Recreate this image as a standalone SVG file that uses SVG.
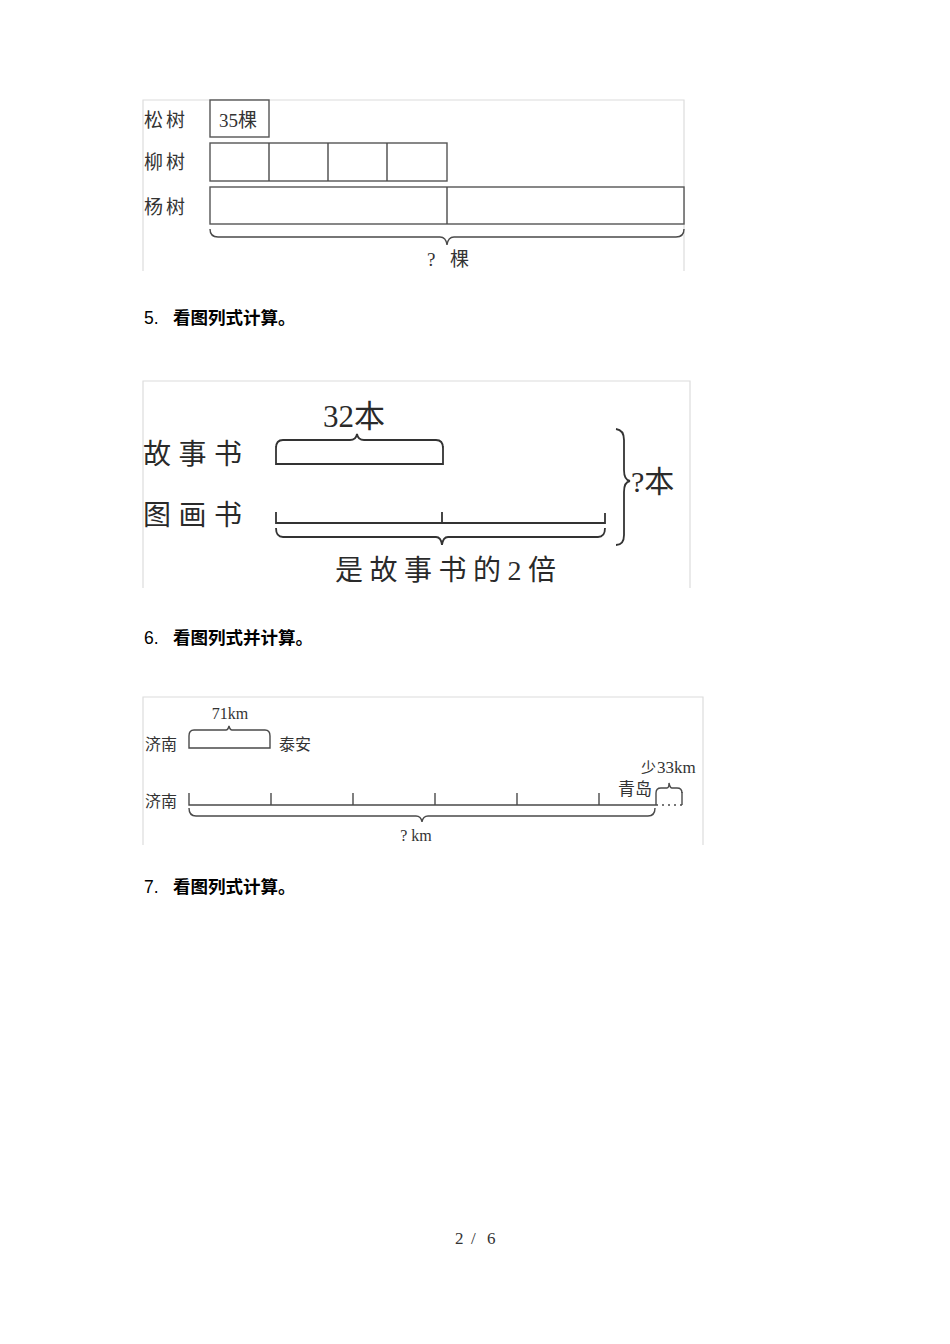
<svg xmlns="http://www.w3.org/2000/svg" width="950" height="1344" viewBox="0 0 950 1344">
<style>
.frame{fill:none;stroke:#dcdcdc;stroke-width:1.2}
.ln{fill:none;stroke:#4a4a4a;stroke-width:1.4}
.ln2{fill:none;stroke:#333;stroke-width:1.8}
.box{fill:#fff;stroke:#555;stroke-width:1.4}
.t{font-family:"Liberation Serif","Noto Sans CJK SC",serif;fill:#333}
.t2{font-family:"Liberation Serif","Noto Sans CJK SC",serif;fill:#2a2a2a}
.s{font-family:"Liberation Serif",serif}
.c{font-family:"Noto Sans CJK SC",sans-serif}
.h{font-family:"Liberation Sans","Noto Sans CJK SC",sans-serif;font-size:17.5px;fill:#000}
.hb{font-weight:bold}
</style>
<rect width="950" height="1344" fill="#fff"/>

<g id="diagram1">
  <path class="frame" d="M143,271 V100 H684 V271"/>
  <g id="d1-labels" class="t" font-size="19">
    <text x="144" y="127" letter-spacing="3">松树</text>
    <text x="144" y="169" letter-spacing="3">柳树</text>
    <text x="144" y="214" letter-spacing="3">杨树</text>
  </g>
  <g id="d1-pine">
    <rect class="box" x="210" y="100" width="59" height="37"/>
    <text class="t" x="219" y="127" font-size="19"><tspan class="s">35</tspan><tspan class="c">棵</tspan></text>
  </g>
  <g id="d1-willow">
    <rect class="box" x="210" y="143" width="237" height="38"/>
    <path class="ln" d="M269,143 V181 M328,143 V181 M387,143 V181"/>
  </g>
  <g id="d1-poplar">
    <rect class="box" x="210" y="187" width="474" height="37"/>
    <path class="ln" d="M447,187 V224"/>
  </g>
  <g id="d1-total">
    <path class="ln" d="M210,229 Q210,237 218,237 H440 Q446,237 447,245 Q448,237 454,237 H676 Q684,237 684,229"/>
    <text class="t s" x="427" y="266" font-size="19">?</text>
    <text class="t" x="450" y="266" font-size="19">棵</text>
  </g>
</g>

<g id="heading5" class="h"><text x="144" y="324">5.</text><text class="hb" x="173" y="324">看图列式计算。</text></g>

<g id="diagram2">
  <path class="frame" d="M143,588 V381 H690 V588"/>
  <g id="d2-story">
    <text class="t2" x="143" y="464" font-size="28" letter-spacing="7.5">故事书</text>
    <path class="ln2" d="M276,448 Q276,440 283,440 H350 Q356,440 357,434 Q358,440 364,440 H436 Q443,440 443,448 M276,446 V464 H443 V446"/>
    <text class="t2" x="323" y="427" font-size="31"><tspan class="s">32</tspan><tspan class="c">本</tspan></text>
  </g>
  <g id="d2-picture">
    <text class="t2" x="143" y="525" font-size="28" letter-spacing="7.5">图画书</text>
    <path class="ln2" d="M276,512 V523 H605 V513 M442,512 V523"/>
    <path class="ln2" d="M276,528 Q276,537 283,537 H436 Q441,537 442,545 Q443,537 448,537 H598 Q605,537 605,528"/>
    <text class="t2" x="335" y="580" font-size="28" letter-spacing="6.5"><tspan class="c">是故事书的</tspan><tspan class="s">2</tspan><tspan class="c">倍</tspan></text>
  </g>
  <g id="d2-total">
    <path class="ln2" d="M616,429 Q624,430 624,440 V470 Q624,480 630,481 Q624,482 624,492 V535 Q624,545 616,545"/>
    <text class="t2" x="631" y="492" font-size="30"><tspan class="s">?</tspan><tspan class="c">本</tspan></text>
  </g>
</g>

<g id="heading6" class="h"><text x="144" y="644">6.</text><text class="hb" x="173" y="644">看图列式并计算。</text></g>

<g id="diagram3">
  <path class="frame" d="M143,845 V697 H703 V845"/>
  <g id="d3-taian">
    <text class="t" x="145" y="750" font-size="16">济南</text>
    <path class="ln" d="M189,736 Q189,730 194,730 H226 Q228,730 229,726 Q230,730 232,730 H265 Q270,730 270,736 M189,736 V748 H270 V736"/>
    <text class="t s" x="230" y="719" font-size="16" text-anchor="middle">71km</text>
    <text class="t" x="279" y="750" font-size="16">泰安</text>
  </g>
  <g id="d3-qingdao">
    <text class="t" x="145" y="807" font-size="16">济南</text>
    <path class="ln" d="M189,793 V805 H656 M271,793 V805 M353,793 V805 M435,793 V805 M517,793 V805 M599,793 V805"/>
    <path class="ln" d="M656,805 H682" stroke-dasharray="2,4"/>
    <path class="ln" d="M682,792 V805"/>
    <path class="ln" d="M656,805 V793 Q656,788 661,788 H667 Q669,788 669,783 Q670,788 672,788 H677 Q682,788 682,793"/>
    <text class="t" x="618" y="795" font-size="17">青岛</text>
    <text class="t" x="641" y="773" font-size="15">少</text>
    <text class="t s" x="657" y="773" font-size="17">33km</text>
    <path class="ln" d="M189,808 Q189,816 196,816 H416 Q421,816 422,822 Q423,816 428,816 H648 Q655,816 655,808"/>
    <text class="t s" x="416" y="841" font-size="16" text-anchor="middle">? km</text>
  </g>
</g>

<g id="heading7" class="h"><text x="144" y="893">7.</text><text class="hb" x="173" y="893">看图列式计算。</text></g>

<g id="page" class="t s" font-size="17" fill="#000">
  <text x="455" y="1244">2</text>
  <text x="471" y="1244">/</text>
  <text x="487" y="1244">6</text>
</g>
</svg>
